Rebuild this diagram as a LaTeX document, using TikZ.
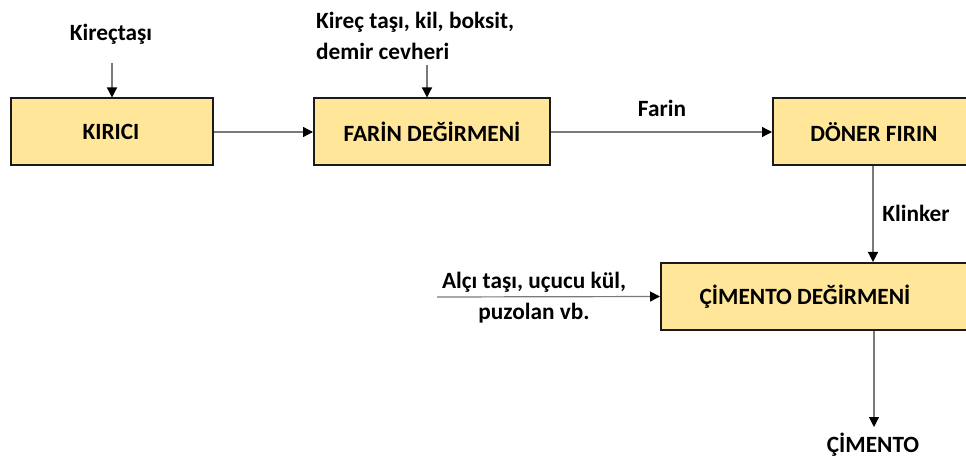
\documentclass[tikz,border=0pt]{standalone}
\usepackage{fontspec}
\setmainfont{Carlito}
\usetikzlibrary{arrows.meta}
\definecolor{boxfill}{HTML}{FFE699}
\definecolor{boxline}{HTML}{1A1A1A}
\definecolor{conn}{HTML}{7A7A7A}
\tikzset{
  procbox/.style={draw=boxline, line width=2pt, fill=boxfill, inner sep=0pt, minimum height=67pt},
  txt/.style={font=\bfseries\fontsize{23.3}{31}\selectfont, text=black, inner sep=0pt},
  arr/.style={draw=conn, line width=1.2pt, -{Triangle[width=10pt,length=10pt,color=black,fill=black]}},
}
\begin{document}
\begin{tikzpicture}[x=1pt,y=-1pt]
\useasboundingbox (0,0) rectangle (966,462);
\clip (0,0) rectangle (966,462);
% boxes
\node[procbox, minimum width=202pt, anchor=west] (kirici) at (10,132) {};
\node[procbox, minimum width=236pt, anchor=west] (farin) at (313,132) {};
\node[procbox, minimum width=210pt, anchor=west] (doner) at (772,132) {};
\node[procbox, minimum width=320pt, anchor=west] (cimento) at (660,296.5) {};
% box texts
\node[txt] (tkirici) at (111,132) {KIRICI};
\node[txt] (tfarin) at (432,132) {FARİN DEĞİRMENİ};
\node[txt] (tdoner) at (874,132) {DÖNER FIRIN};
\node[txt] (tcimento) at (805,297) {ÇİMENTO DEĞİRMENİ};
% labels
\node[txt] (lkirec) at (111,34) {Kireçtaşı};
\node[txt, align=left, anchor=west] (lfarin) at (316,35.5) {Kireç taşı, kil, boksit,\\demir cevheri};
\node[txt] (lfarinout) at (662,108) {Farin};
\node[txt] (lklinker) at (916,213) {Klinker};
\node[txt, align=center] (lalci) at (534,297.5) {Alçı taşı, uçucu kül,\\puzolan vb.};
\node[txt] (lcim) at (873,445) {ÇİMENTO};
% connector start points
\coordinate (s1) at (112,63);
\coordinate (s2) at (427,65);
\coordinate (s3) at (437,297);
\coordinate (e6) at (874,427);
% connectors
\draw[arr] (kirici.east) -- (farin.west);
\draw[arr] (s1) -- (s1 |- kirici.north);
\draw[arr] (s2) -- (s2 |- farin.north);
\draw[arr] (farin.east) -- (doner.west);
\draw[arr] (873,0 |- doner.south) -- (873,0 |- cimento.north);
\draw[arr] (s3) -- (cimento.west);
\draw[arr] (874,0 |- cimento.south) -- (e6);
\end{tikzpicture}
\end{document}
